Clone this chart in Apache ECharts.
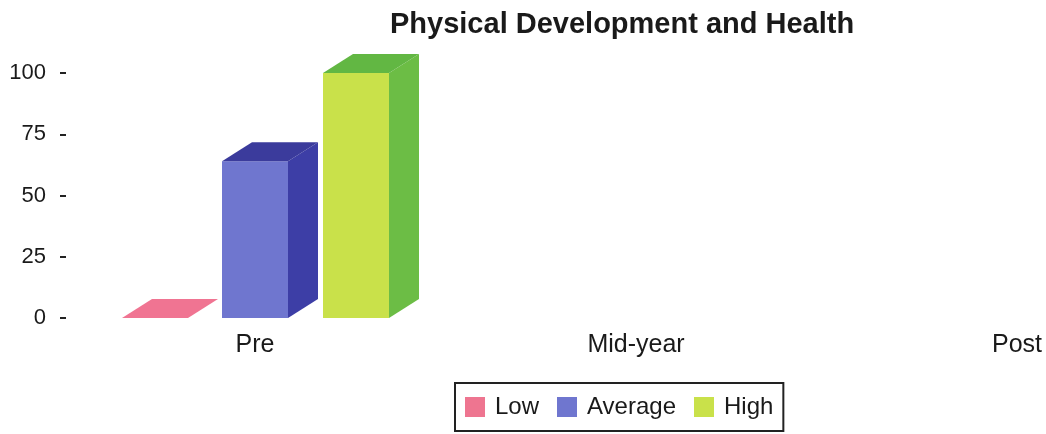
<!DOCTYPE html>
<html><head><meta charset="utf-8">
<script src="https://cdn.jsdelivr.net/npm/echarts@6/dist/echarts.min.js"></script>
<style>html,body{margin:0;padding:0;background:#fff}#c{width:1046px;height:434px}</style>
</head><body><div id="c"></div>
<script>
const titleText = 'Physical Development and Health';
const categories = ['Pre', 'Mid-year', 'Post'];
const yTicks = [0, 25, 50, 75, 100];
const seriesNames = ['Low', 'Average', 'High'];
const lowValues = [0, null, null];
const averageValues = [64, null, null];
const highValues = [100, null, null];

const palette = {
  Low: {front: '#ee7590', side: '#d85a78', top: '#f07492'},
  Average: {front: '#6f76cf', side: '#3d3ea6', top: '#3b3b9c'},
  High: {front: '#c9e14a', side: '#6cbd45', top: '#62b743'}
};
const offsets = [-100, 0, 101];
const FW = 66, DX = 30, DY = -19;
const FONT = 'Liberation Sans, Arial, sans-serif';

function makeSeries(name, values, k) {
  const data = [];
  values.forEach((v, i) => { if (v !== null) data.push([i, v]); });
  const c = palette[name];
  return {
    name: name, type: 'custom', clip: false,
    itemStyle: {color: c.front},
    data: data,
    renderItem: function (params, api) {
      const idx = api.value(0), val = api.value(1);
      const top = api.coord([idx, val]);
      const base = api.coord([idx, 0]);
      const x0 = top[0] + offsets[k] - FW / 2, x1 = x0 + FW;
      const yt = top[1], yb = base[1];
      const children = [];
      if (yb - yt > 0.5) {
        children.push({type: 'rect', shape: {x: x0, y: yt, width: FW, height: yb - yt}, style: {fill: c.front}});
        children.push({type: 'polygon', shape: {points: [[x1, yt], [x1 + DX, yt + DY], [x1 + DX, yb + DY], [x1, yb]]}, style: {fill: c.side}});
      }
      children.push({type: 'polygon', shape: {points: [[x0, yt], [x0 + DX, yt + DY], [x1 + DX, yt + DY], [x1, yt]]}, style: {fill: c.top}});
      return {type: 'group', children: children};
    }
  };
}

const chart = echarts.init(document.getElementById('c'));
chart.setOption({
  animation: false,
  backgroundColor: '#ffffff',
  textStyle: {fontFamily: FONT},
  title: {
    text: titleText, left: 385, top: 5,
    textStyle: {fontSize: 29, fontWeight: 'bold', color: '#1a1a1a', fontFamily: FONT}
  },
  legend: {
    data: seriesNames, left: 455, top: 383,
    borderColor: '#222', borderWidth: 2, padding: [12, 10, 12, 10],
    itemWidth: 20, itemHeight: 20, itemGap: 18, icon: 'rect',
    textStyle: {fontSize: 24, color: '#1a1a1a', fontFamily: FONT, padding: [0, 0, 0, 5]}
  },
  grid: {left: 255, right: 29, top: 73, height: 245, containLabel: false},
  xAxis: {
    type: 'category', data: categories, boundaryGap: false,
    axisLine: {show: false}, axisTick: {show: false}, splitLine: {show: false},
    axisLabel: {fontSize: 25, color: '#1a1a1a', margin: 15}
  },
  yAxis: {
    type: 'value', min: yTicks[0], max: yTicks[yTicks.length - 1], interval: 25,
    offset: 189,
    axisLine: {show: false}, splitLine: {show: false},
    axisTick: {show: true, length: 6, lineStyle: {color: '#222', width: 2}},
    axisLabel: {fontSize: 22, color: '#1a1a1a', margin: 20}
  },
  series: [
    makeSeries('Low', lowValues, 0),
    makeSeries('Average', averageValues, 1),
    makeSeries('High', highValues, 2)
  ]
});
</script></body></html>
